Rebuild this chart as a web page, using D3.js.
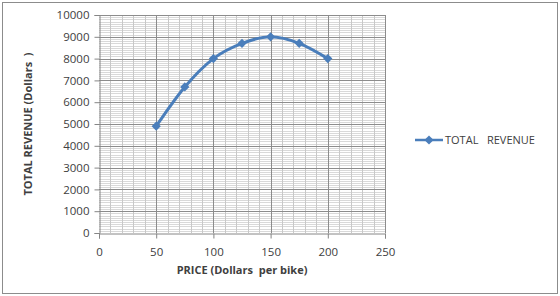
<!DOCTYPE html>
<html>
<head>
<meta charset="utf-8">
<script src="https://cdn.jsdelivr.net/npm/d3@7"></script>
<style>
  body { margin: 0; background: #fff; }
  text { font-family: "Open Sans", "Liberation Sans", sans-serif; }
</style>
</head>
<body>
<div id="chart"></div>
<script>
// data
const prices = [50, 75, 100, 125, 150, 175, 200];
const revenue = [4900, 6700, 8000, 8700, 9000, 8700, 8000];
const xTicks = [0, 50, 100, 150, 200, 250];
const yTicks = [0, 1000, 2000, 3000, 4000, 5000, 6000, 7000, 8000, 9000, 10000];
const seriesName = "TOTAL   REVENUE";

const W = 560, H = 296;
const margin = {top: 15, right: 175, bottom: 63, left: 99};
const width = W - margin.left - margin.right,
      height = H - margin.top - margin.bottom;

const svg = d3.select("#chart")
  .append("svg")
  .attr("width", W)
  .attr("height", H);

// outer frame
svg.append("rect")
  .attr("x", 2.5).attr("y", 2.5)
  .attr("width", 555).attr("height", 291)
  .attr("fill", "#fff")
  .attr("stroke", "#8c8c8c");

const g = svg.append("g")
  .attr("transform", `translate(${margin.left},${margin.top})`);

const x = d3.scaleLinear().domain([0, 250]).range([0, width]);
const y = d3.scaleLinear().domain([0, 10000]).range([height, 0]);

// minor grid
g.append("g")
  .selectAll("line")
  .data(d3.range(100, 10000, 100).filter(v => v % 1000 != 0))
  .join("line")
  .attr("x1", 0).attr("x2", width)
  .attr("y1", d => Math.round(y(d)) + 0.5).attr("y2", d => Math.round(y(d)) + 0.5)
  .attr("stroke", "#d9d9d9");
g.append("g")
  .selectAll("line")
  .data(d3.range(10, 251, 10).filter(v => v % 50 != 0))
  .join("line")
  .attr("x1", d => Math.round(x(d)) + 0.5).attr("x2", d => Math.round(x(d)) + 0.5)
  .attr("y1", 0).attr("y2", height)
  .attr("stroke", "#c8c8c8");
// major grid
g.append("g")
  .selectAll("line")
  .data(yTicks.slice(1))
  .join("line")
  .attr("x1", 0).attr("x2", width)
  .attr("y1", d => Math.round(y(d)) + 0.5).attr("y2", d => Math.round(y(d)) + 0.5)
  .attr("stroke", "#8c8c8c");
g.append("g")
  .selectAll("line")
  .data(xTicks.slice(1))
  .join("line")
  .attr("x1", d => Math.round(x(d)) + 0.5).attr("x2", d => Math.round(x(d)) + 0.5)
  .attr("y1", 0).attr("y2", height)
  .attr("stroke", "#8c8c8c");

// axes
const yAxis = g.append("g")
  .attr("transform", "translate(0.5,0)")
  .call(d3.axisLeft(y).tickValues(yTicks).tickSize(5).tickPadding(5).tickFormat(d3.format("d")));
const xAxis = g.append("g")
  .attr("transform", `translate(0,${Math.round(height) + 0.5})`)
  .call(d3.axisBottom(x).tickValues(xTicks).tickSize(5).tickPadding(9));
[xAxis, yAxis].forEach(a => {
  a.select(".domain").attr("stroke", "#868686");
  a.selectAll(".tick line").attr("stroke", "#868686");
  a.selectAll(".tick text")
    .attr("fill", "#404040")
    .style("font-size", "11.5px")
    .style("font-family", "'Open Sans', sans-serif");
});

// smoothed line (excel style)
const line = d3.line()
  .x((d, i) => x(prices[i]))
  .y(d => y(d))
  .curve(d3.curveCardinal.tension(0));

g.append("path")
  .datum(revenue)
  .attr("d", line)
  .attr("fill", "none")
  .attr("stroke", "#4a7ebb")
  .attr("stroke-width", 3);

// square diamond marker
const diamond = d3.symbol().type(d3.symbolSquare).size(42);
g.selectAll(".pt")
  .data(revenue)
  .join("path")
  .attr("class", "pt")
  .attr("d", diamond)
  .attr("transform", (d, i) => `translate(${x(prices[i])},${y(d)}) rotate(45)`)
  .attr("fill", "#4a7ebb");

// axis titles
svg.append("text")
  .attr("x", margin.left + width / 2)
  .attr("y", 274)
  .attr("text-anchor", "middle")
  .attr("fill", "#404040")
  .style("font-size", "11px")
  .style("font-weight", "bold")
  .style("white-space", "pre")
  .text("PRICE (Dollars  per bike)");

svg.append("text")
  .attr("transform", `translate(32,${margin.top + height / 2}) rotate(-90)`)
  .attr("text-anchor", "middle")
  .attr("fill", "#404040")
  .style("font-size", "11px")
  .style("font-weight", "bold")
  .style("white-space", "pre")
  .text("TOTAL REVENUE (Dollars  )");

// legend
const leg = svg.append("g").attr("transform", "translate(415,140)");
leg.append("line")
  .attr("x1", 0).attr("x2", 28)
  .attr("stroke", "#4a7ebb").attr("stroke-width", 2.5);
leg.append("path")
  .attr("d", diamond)
  .attr("transform", "translate(14,0) rotate(45)")
  .attr("fill", "#4a7ebb");
leg.append("text")
  .attr("x", 30)
  .attr("dy", "0.35em")
  .attr("fill", "#404040")
  .style("font-size", "11px")
  .style("white-space", "pre")
  .text(seriesName);
</script>
</body>
</html>
